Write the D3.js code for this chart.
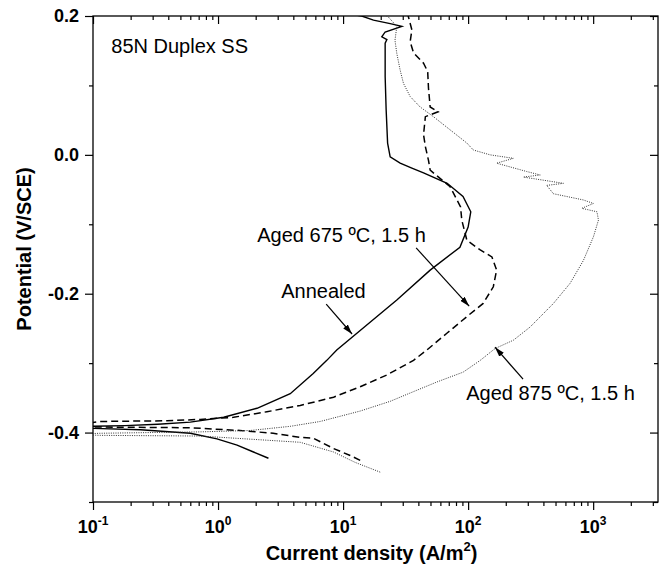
<!DOCTYPE html>
<html>
<head>
<meta charset="utf-8">
<script src="https://cdn.jsdelivr.net/npm/d3@7"></script>
<style>
  body { margin: 0; background: #fff; }
  svg text { font-family: "Liberation Sans", Arial, sans-serif; fill: #000; }
</style>
</head>
<body>
<svg id="chart" width="665" height="570"></svg>
<script>
// polarization curves, [current density A/m2, potential V/SCE]
// each one starts at the cathodic end and runs up the anodic branch
var annealed = [
  [2.53, -0.437], [1.92, -0.428], [1.42, -0.418], [0.98, -0.409], [0.60, -0.401],
  [0.24, -0.396], [0.10, -0.394], [0.07, -0.393],
  [0.10, -0.391], [0.18, -0.390], [0.33, -0.388], [0.60, -0.385], [1.11, -0.378],
  [2.05, -0.365], [3.78, -0.344], [5.77, -0.315], [7.41, -0.296], [8.9, -0.281],
  [13.7, -0.253], [26.9, -0.209], [49.7, -0.166], [86, -0.133], [100, -0.104],
  [105, -0.082], [91, -0.060], [68, -0.041], [44, -0.026], [35.5, -0.019],
  [28.6, -0.012], [23.8, -0.003], [22.7, 0.017], [22.1, 0.065], [21.7, 0.113],
  [21.7, 0.161], [22.4, 0.166], [20.4, 0.170], [21.7, 0.177], [29.5, 0.185],
  [23.8, 0.189], [17.5, 0.194], [14.1, 0.200], [12, 0.202]
];
var aged675 = [
  [13.7, -0.440], [11.4, -0.433], [8.4, -0.423], [5.77, -0.408], [4.54, -0.407],
  [2.76, -0.401], [1.50, -0.397], [0.60, -0.393], [0.10, -0.392], [0.07, -0.389],
  [0.114, -0.384], [0.39, -0.383], [0.72, -0.381], [1.33, -0.378], [2.46, -0.370],
  [4.54, -0.361], [8.4, -0.349], [13.7, -0.334], [22.4, -0.317], [36.6, -0.296],
  [46.8, -0.281], [67.6, -0.257], [97.7, -0.233], [132, -0.214], [159, -0.190],
  [169, -0.166], [155, -0.147], [125, -0.137], [97.7, -0.123], [89, -0.094],
  [87, -0.075], [71.8, -0.046], [49.7, -0.022], [48.2, -0.008], [45.5, 0.012],
  [44, 0.029], [45.5, 0.055], [57.5, 0.062], [49.7, 0.069], [48.2, 0.096],
  [47.5, 0.120], [44, 0.132], [36.6, 0.147], [34.4, 0.163], [35.5, 0.180],
  [33.3, 0.199], [33, 0.202]
];
var aged875 = [
  [19.8, -0.457], [12.5, -0.443], [8.4, -0.428], [4.54, -0.414], [2.46, -0.411],
  [0.72, -0.405], [0.114, -0.404], [0.07, -0.4025],
  [0.114, -0.401], [0.72, -0.399], [1.81, -0.397], [3.78, -0.391], [6.56, -0.384],
  [13.7, -0.369], [23.8, -0.355], [34.4, -0.343], [56.5, -0.327], [91.2, -0.313],
  [125, -0.296], [164, -0.279], [230, -0.267], [313, -0.248], [481, -0.214],
  [654, -0.185], [836, -0.152], [1005, -0.118], [1102, -0.094], [1073, -0.082],
  [811, -0.077], [1005, -0.070], [836, -0.065], [481, -0.056], [425, -0.044],
  [578, -0.041], [277, -0.032], [377, -0.029], [294, -0.024], [169, -0.012],
  [230, -0.005], [150, 0.000], [110, 0.007], [97.7, 0.017], [71.8, 0.036],
  [52.8, 0.055], [41.3, 0.069], [34.4, 0.084], [30.4, 0.103], [28.6, 0.122],
  [26.9, 0.146], [26, 0.165], [26.9, 0.185], [22.9, 0.199], [21, 0.202]
];

var xMajor = [0.1, 1, 10, 100, 1000];
var xExp = ["-1", "0", "1", "2", "3"];
var yMajor = [-0.4, -0.2, 0, 0.2];
var yLabels = ["-0.4", "-0.2", "0.0", "0.2"];
var yMinor = [-0.5, -0.3, -0.1, 0.1];

// labels with arrows: text anchor, arrow start, arrow tip (data units)
var notes = [
  { text: "Aged 675 \u00baC, 1.5 h", at: [2.06, -0.126], from: [38.4, -0.134], tip: [102, -0.218] },
  { text: "Annealed", at: [3.2, -0.206], from: [7.33, -0.215], tip: [11.8, -0.258] },
  { text: "Aged 875 \u00baC, 1.5 h", at: [96.6, -0.353], from: [275, -0.323], tip: [164, -0.277] }
];

var margin = { top: 16, right: 7, bottom: 68, left: 93 },
    W = 665, H = 570,
    width = W - margin.left - margin.right,
    height = H - margin.top - margin.bottom;

var svg = d3.select("#chart");
var g = svg.append("g").attr("transform", "translate(" + margin.left + "," + margin.top + ")");

var x = d3.scaleLog().domain([0.1, 3300]).range([0, width]);
var y = d3.scaleLinear().domain([-0.5, 0.2]).range([height, 0]);

// minor tick positions on the log axis
var xMinor = [];
xMajor.forEach(function (d) {
  for (var m = 2; m <= 9; m++) {
    if (d * m <= 3300) xMinor.push(d * m);
  }
});

svg.append("defs").append("clipPath").attr("id", "clip")
  .append("rect").attr("width", width).attr("height", height);

var defs = svg.select("defs");
defs.append("marker")
  .attr("id", "arrow")
  .attr("viewBox", "0 0 10 6")
  .attr("refX", 10).attr("refY", 3)
  .attr("markerWidth", 10).attr("markerHeight", 6)
  .attr("markerUnits", "userSpaceOnUse")
  .attr("orient", "auto")
  .append("path").attr("d", "M0,0 L10,3 L0,6 Z").attr("fill", "#000");

// axes
function styleAxis(sel) {
  sel.select(".domain").remove();
  sel.selectAll("line").attr("stroke", "#000").attr("stroke-width", 1.2);
}

g.append("g").attr("transform", "translate(0," + height + ")")
  .call(d3.axisBottom(x).tickValues(xMajor).tickSize(8).tickSizeOuter(0).tickFormat(""))
  .call(styleAxis);
g.append("g").attr("transform", "translate(0," + height + ")")
  .call(d3.axisBottom(x).tickValues(xMinor).tickSize(4).tickSizeOuter(0).tickFormat(""))
  .call(styleAxis);
g.append("g")
  .call(d3.axisTop(x).tickValues(xMajor).tickSize(-8).tickSizeOuter(0).tickFormat(""))
  .call(styleAxis);
g.append("g")
  .call(d3.axisTop(x).tickValues(xMinor).tickSize(-4).tickSizeOuter(0).tickFormat(""))
  .call(styleAxis);

g.append("g")
  .call(d3.axisLeft(y).tickValues(yMajor).tickSize(8).tickSizeOuter(0).tickFormat(""))
  .call(styleAxis);
g.append("g")
  .call(d3.axisLeft(y).tickValues(yMinor).tickSize(4).tickSizeOuter(0).tickFormat(""))
  .call(styleAxis);
g.append("g").attr("transform", "translate(" + width + ",0)")
  .call(d3.axisRight(y).tickValues(yMajor).tickSize(-8).tickSizeOuter(0).tickFormat(""))
  .call(styleAxis);
g.append("g").attr("transform", "translate(" + width + ",0)")
  .call(d3.axisRight(y).tickValues(yMinor).tickSize(-4).tickSizeOuter(0).tickFormat(""))
  .call(styleAxis);

// tick labels
var xl = g.append("g").selectAll("text").data(xMajor).enter().append("text")
  .attr("x", function (d) { return x(d); })
  .attr("y", height + 31)
  .attr("text-anchor", "middle")
  .style("font-size", "18px").style("font-weight", "bold");
xl.append("tspan").text("10");
xl.append("tspan")
  .attr("dy", -8)
  .style("font-size", "12px")
  .text(function (d, i) { return xExp[i]; });

g.append("g").selectAll("text").data(yMajor).enter().append("text")
  .attr("x", -14)
  .attr("y", function (d) { return y(d); })
  .attr("dy", "0.35em")
  .attr("text-anchor", "end")
  .style("font-size", "18px").style("font-weight", "bold")
  .text(function (d, i) { return yLabels[i]; });

// axis titles
var xt = g.append("text")
  .attr("x", width / 2 - 4)
  .attr("y", height + 58)
  .attr("text-anchor", "middle")
  .style("font-size", "20px").style("font-weight", "bold");
xt.append("tspan").text("Current density (A/m");
xt.append("tspan").attr("dy", -9).style("font-size", "13px").text("2");
xt.append("tspan").attr("dy", 9).text(")");

g.append("text")
  .attr("transform", "translate(" + (-62) + "," + (height / 2 - 10) + ") rotate(-90)")
  .attr("text-anchor", "middle")
  .style("font-size", "20px").style("font-weight", "bold")
  .text("Potential (V/SCE)");

// frame
g.append("rect")
  .attr("width", width).attr("height", height)
  .attr("fill", "none").attr("stroke", "#000").attr("stroke-width", 1.3);

// curves
var line = d3.line()
  .x(function (d) { return x(d[0]); })
  .y(function (d) { return y(d[1]); });

var plot = g.append("g").attr("clip-path", "url(#clip)");

plot.append("path").datum(annealed)
  .attr("d", line).attr("fill", "none")
  .attr("stroke", "#000").attr("stroke-width", 1.4);

plot.append("path").datum(aged675)
  .attr("d", line).attr("fill", "none")
  .attr("stroke", "#000").attr("stroke-width", 1.5)
  .attr("stroke-dasharray", "7,4");

plot.append("path").datum(aged875)
  .attr("d", line).attr("fill", "none")
  .attr("stroke", "#333").attr("stroke-width", 1)
  .attr("stroke-dasharray", "1,1.3");

// text labels
g.append("text")
  .attr("x", x(0.14)).attr("y", y(0.147))
  .style("font-size", "20px")
  .text("85N Duplex SS");

notes.forEach(function (n) {
  g.append("text")
    .attr("x", x(n.at[0])).attr("y", y(n.at[1]))
    .style("font-size", "20px")
    .text(n.text);
  g.append("line")
    .attr("x1", x(n.from[0])).attr("y1", y(n.from[1]))
    .attr("x2", x(n.tip[0])).attr("y2", y(n.tip[1]))
    .attr("stroke", "#000").attr("stroke-width", 1.2)
    .attr("marker-end", "url(#arrow)");
});
</script>
</body>
</html>
